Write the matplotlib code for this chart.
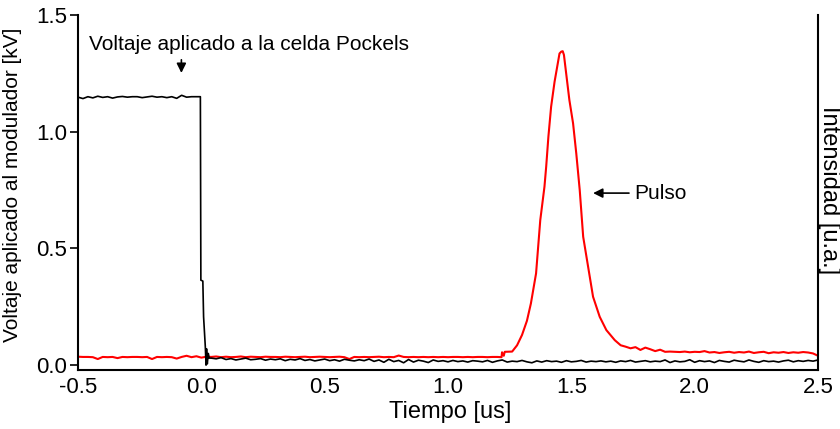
import numpy as np
import matplotlib.pyplot as plt

plt.rcParams['font.family'] = ['Liberation Sans', 'DejaVu Sans']
plt.rcParams['font.size'] = 15

# Black trace: voltage on the Pockels cell [kV]
bk_pre_t = np.round(np.arange(-0.50, -0.01, 0.02), 3)
bk_pre_v = [1.148, 1.142, 1.150, 1.145, 1.152, 1.147, 1.150, 1.144, 1.149, 1.151,
            1.148, 1.150, 1.150, 1.146, 1.149, 1.152, 1.148, 1.150, 1.146, 1.150,
            1.143, 1.156, 1.148, 1.150, 1.150]
bk_step_t = [-0.004, -0.002, 0.006, 0.009, 0.016, 0.019, 0.021, 0.024, 0.028, 0.032]
bk_step_v = [1.150, 0.364, 0.360, 0.207, 0.079, 0.000, 0.070, 0.005, 0.050, 0.030]
bk_post_t = np.round(np.arange(0.04, 2.501, 0.02), 3)
bk_post_v = [0.030, 0.027, 0.032, 0.024, 0.028, 0.022, 0.026, 0.030, 0.023, 0.025,
             0.028, 0.021, 0.026, 0.023, 0.027, 0.019, 0.025, 0.022, 0.028, 0.020,
             0.024, 0.018, 0.022, 0.026, 0.019, 0.023, 0.017, 0.025, 0.021, 0.018,
             0.023, 0.019, 0.026, 0.016, 0.022, 0.012, 0.025, 0.015, 0.020, 0.010,
             0.024, 0.013, 0.021, 0.017, 0.011, 0.022, 0.016, 0.019, 0.014, 0.020,
             0.015, 0.018, 0.013, 0.019, 0.017, 0.014, 0.020, 0.012, 0.018, 0.022,
             0.013, 0.017, 0.015, 0.020, 0.014, 0.010, 0.018, 0.013, 0.019, 0.015,
             0.017, 0.012, 0.019, 0.014, 0.016, 0.020, 0.013, 0.017, 0.015, 0.018,
             0.014, 0.017, 0.012, 0.018, 0.015, 0.020, 0.013, 0.016, 0.019, 0.014,
             0.017, 0.015, 0.022, 0.011, 0.018, 0.014, 0.016, 0.023, 0.012, 0.019,
             0.015, 0.018, 0.011, 0.020, 0.016, 0.013, 0.021, 0.017, 0.014, 0.022,
             0.016, 0.012, 0.019, 0.015, 0.017, 0.013, 0.018, 0.021, 0.014, 0.019,
             0.016, 0.020, 0.017, 0.022]

# Red trace: optical pulse intensity (a.u.)
rd_pre_t = np.round(np.arange(-0.50, 1.201, 0.02), 3)
rd_pre_v = [0.036, 0.035, 0.035, 0.034, 0.026, 0.035, 0.034, 0.035, 0.030, 0.035,
            0.034, 0.035, 0.035, 0.034, 0.035, 0.026, 0.035, 0.034, 0.035, 0.034,
            0.028, 0.035, 0.040, 0.034, 0.038, 0.032, 0.036, 0.035, 0.037, 0.034,
            0.036, 0.034, 0.035, 0.037, 0.034, 0.036, 0.035, 0.034, 0.036, 0.035,
            0.035, 0.034, 0.036, 0.035, 0.034, 0.035, 0.036, 0.034, 0.035, 0.036,
            0.035, 0.034, 0.035, 0.036, 0.034, 0.026, 0.035, 0.034, 0.035, 0.034,
            0.035, 0.036, 0.034, 0.035, 0.034, 0.041, 0.035, 0.034, 0.035, 0.034,
            0.035, 0.034, 0.035, 0.034, 0.035, 0.034, 0.035, 0.035, 0.034, 0.035,
            0.034, 0.035, 0.035, 0.034, 0.035, 0.035]
rd_peak_t = [1.217, 1.219, 1.226, 1.230, 1.260, 1.280, 1.300, 1.320, 1.336, 1.357,
             1.374, 1.391, 1.398, 1.407, 1.418, 1.432, 1.446, 1.452, 1.459, 1.465,
             1.470, 1.479, 1.492, 1.507, 1.520, 1.534, 1.548, 1.568, 1.588, 1.615,
             1.642, 1.676, 1.700]
rd_peak_v = [0.034, 0.055, 0.040, 0.057, 0.058, 0.085, 0.129, 0.190, 0.264, 0.393,
             0.621, 0.764, 0.850, 0.979, 1.107, 1.214, 1.300, 1.335, 1.343, 1.345,
             1.329, 1.250, 1.136, 1.036, 0.907, 0.750, 0.550, 0.421, 0.293, 0.207,
             0.150, 0.107, 0.085]
rd_tail_t = np.round(np.arange(1.72, 2.501, 0.02), 3)
rd_tail_v = [0.079, 0.072, 0.077, 0.065, 0.075, 0.068, 0.060, 0.066, 0.057, 0.058,
             0.057, 0.056, 0.058, 0.055, 0.057, 0.056, 0.060, 0.054, 0.056, 0.052,
             0.055, 0.057, 0.053, 0.056, 0.054, 0.058, 0.052, 0.055, 0.057, 0.051,
             0.055, 0.053, 0.056, 0.052, 0.055, 0.053, 0.056, 0.054, 0.050, 0.040]

bk_t = np.concatenate([bk_pre_t, bk_step_t, bk_post_t])
bk_v = np.concatenate([bk_pre_v, bk_step_v, bk_post_v])
rd_t = np.concatenate([rd_pre_t, rd_peak_t, rd_tail_t])
rd_v = np.concatenate([rd_pre_v, rd_peak_v, rd_tail_v])

fig = plt.figure(figsize=(8.4, 4.29), dpi=100)
ax = fig.add_axes([0.0929, 0.1375, 0.8809, 0.8275])

ax.plot(rd_t, rd_v, color='red', lw=1.5)
ax.plot(bk_t, bk_v, color='black', lw=1.2)

ax.set_xlim(-0.5, 2.5)
ax.set_ylim(-0.021, 1.5)
ax.set_xticks([-0.5, 0.0, 0.5, 1.0, 1.5, 2.0, 2.5])
ax.set_yticks([0.0, 0.5, 1.0, 1.5])
ax.xaxis.set_major_formatter(plt.FormatStrFormatter('%.1f'))
ax.yaxis.set_major_formatter(plt.FormatStrFormatter('%.1f'))
ax.tick_params(axis='y', direction='out', length=6, width=1.2, pad=2, labelsize=16)
ax.tick_params(axis='x', length=0, pad=5, labelsize=16)

ax.spines['top'].set_visible(False)
for s in ['left', 'bottom', 'right']:
    ax.spines[s].set_linewidth(1.5)

ax.set_xlabel('Tiempo [us]', fontsize=17)
ax.xaxis.set_label_coords(0.503, -0.088)
ax.set_ylabel('Voltaje aplicado al modulador [kV]', fontsize=15)
ax.yaxis.set_label_coords(-0.076, 0.521)
fig.text(0.987, 0.557, 'Intensidad [u.a.]', rotation=-90, va='center', ha='center', fontsize=17)

ax.annotate('', xy=(-0.081, 1.24), xytext=(-0.081, 1.32),
            arrowprops=dict(arrowstyle='-|>', color='black', lw=1.2, mutation_scale=14))
ax.text(-0.455, 1.375, 'Voltaje aplicado a la celda Pockels', va='center', ha='left', fontsize=15)

ax.annotate('', xy=(1.577, 0.737), xytext=(1.745, 0.737),
            arrowprops=dict(arrowstyle='-|>', color='black', lw=1.2, mutation_scale=14))
ax.text(1.756, 0.737, 'Pulso', va='center', ha='left', fontsize=15)

fig.savefig('out.png', dpi=100)
